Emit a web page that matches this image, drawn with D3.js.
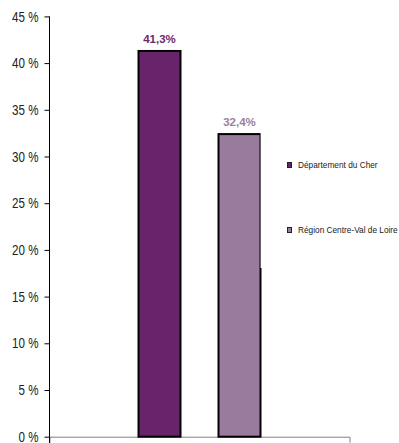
<!DOCTYPE html>
<html>
<head>
<meta charset="utf-8">
<script src="https://cdn.jsdelivr.net/npm/d3@7"></script>
<style>
  html, body { margin: 0; padding: 0; background: #fff; }
  svg { display: block; }
</style>
</head>
<body>
<svg id="chart" width="399" height="443"></svg>
<script>
// Share of the population (%), Cher vs. Centre-Val de Loire
const categories = [""];
const seriesNames = ["Département du Cher", "Région Centre-Val de Loire"];
const seriesValues = [41.3, 32.4];
const seriesLabels = ["41,3%", "32,4%"];
const seriesColors = ["#68236a", "#987b9d"];
const labelColors = ["#6b2a6e", "#9a7fa0"];
const yTicks = [0, 5, 10, 15, 20, 25, 30, 35, 40, 45];

const FONT = "Liberation Sans, Arial, sans-serif";

// condensed look: squeeze glyphs horizontally by a factor
function condense(sel, factor) {
  sel.each(function () {
    const w = this.getComputedTextLength();
    d3.select(this).attr("textLength", w * factor).attr("lengthAdjust", "spacingAndGlyphs");
  });
}

const svg = d3.select("#chart");

const y = d3.scaleLinear().domain([0, 45]).range([436.7, 16.4]);
const x0 = d3.scaleBand().domain(categories).range([49.5, 349.5]).padding(0);
const x1 = d3.scaleBand().domain(seriesNames)
  .range([0, x0.bandwidth()])
  .paddingInner(0.475)
  .paddingOuter(1.1125);

// x axis (grey baseline with outer ticks)
const xAxis = svg.append("g")
  .attr("transform", `translate(0,${y(0)})`)
  .call(d3.axisBottom(x0).tickSize(0).tickSizeOuter(6).tickFormat(() => ""));
xAxis.select(".domain").attr("stroke", "#808080").attr("stroke-width", 1);

// bars
const data = seriesNames.map((name, i) => ({ name, value: seriesValues[i], label: seriesLabels[i], i }));
const group = svg.append("g").attr("transform", `translate(${x0(categories[0])},0)`);

group.selectAll("rect.bar")
  .data(data)
  .join("rect")
  .attr("class", "bar")
  .attr("x", d => x1(d.name))
  .attr("y", d => y(d.value))
  .attr("width", x1.bandwidth())
  .attr("height", d => y(0) - y(d.value))
  .attr("fill", d => seriesColors[d.i])
  .attr("stroke", "#000")
  .attr("stroke-width", 2);

group.selectAll("text.val")
  .data(data)
  .join("text")
  .attr("class", "val")
  .attr("x", d => x1(d.name) + x1.bandwidth() / 2)
  .attr("y", d => y(d.value) - 8)
  .attr("text-anchor", "middle")
  .attr("font-family", FONT)
  .attr("font-weight", "bold")
  .attr("font-size", "11.5px")
  .attr("fill", d => labelColors[d.i])
  .text(d => d.label);

// legend panel (white background overlapping the plot edge)
const legend = svg.append("g");
legend.append("rect")
  .attr("x", 260.6).attr("y", 133)
  .attr("width", 138.4).attr("height", 135)
  .attr("fill", "#fff");

const legendRows = [165, 230];
const items = legend.selectAll("g.item")
  .data(data)
  .join("g")
  .attr("class", "item")
  .attr("transform", d => `translate(287,${legendRows[d.i]})`);
items.append("rect")
  .attr("x", 0.5).attr("y", -2.5)
  .attr("width", 4).attr("height", 5)
  .attr("fill", d => seriesColors[d.i])
  .attr("stroke", "#222")
  .attr("stroke-width", 1);
items.append("text")
  .attr("x", 11)
  .attr("y", 0)
  .attr("dy", "0.35em")
  .attr("font-family", FONT)
  .attr("font-size", "9px")
  .attr("fill", "#222")
  .text(d => d.name)
  .call(condense, 0.92);

// y axis
const yAxis = svg.append("g")
  .attr("transform", "translate(49.5,0)")
  .call(d3.axisLeft(y).tickValues(yTicks).tickSize(5).tickSizeOuter(0).tickPadding(6).tickFormat(d => d + " %"));
yAxis.select(".domain").attr("stroke", "#000").attr("d", `M0,${y(45)}V443`);
yAxis.selectAll(".tick line").attr("stroke", "#000");
yAxis.selectAll(".tick text")
  .attr("font-family", FONT)
  .attr("font-size", "14.5px")
  .attr("fill", "#222")
  .call(condense, 0.8);
</script>
</body>
</html>
